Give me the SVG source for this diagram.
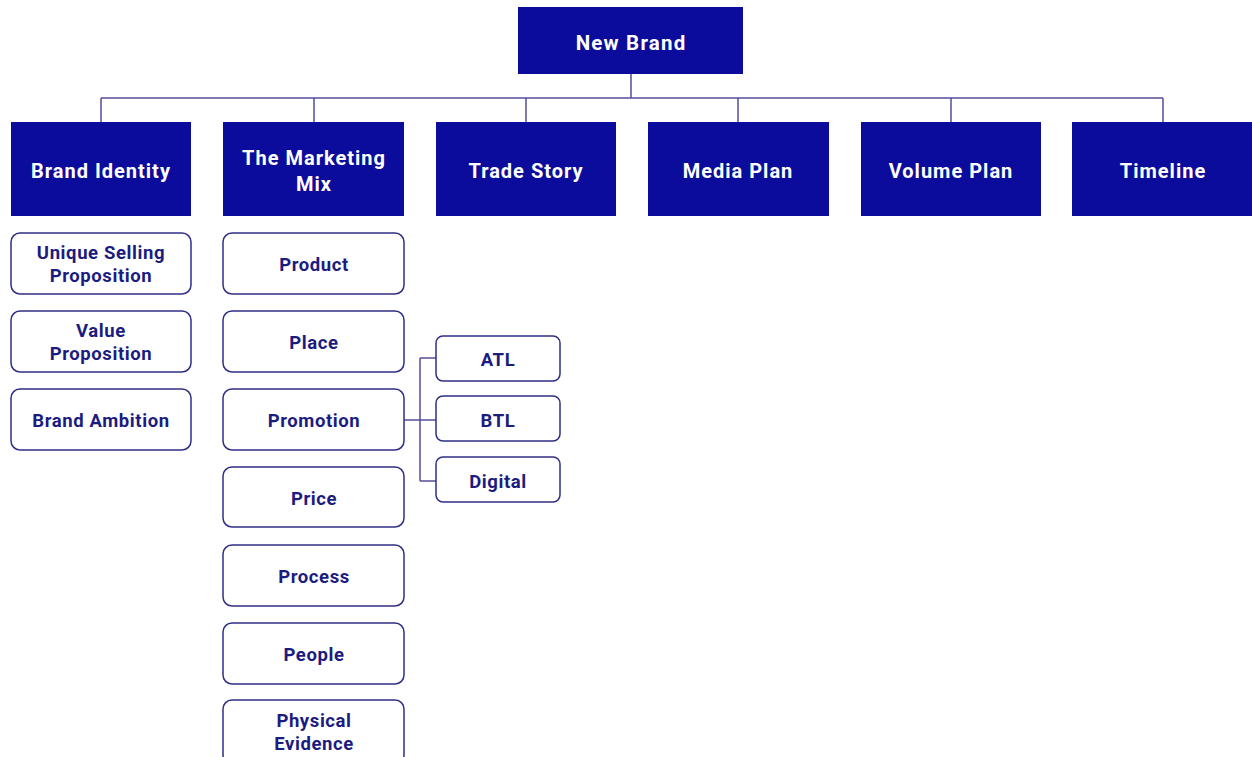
<svg xmlns="http://www.w3.org/2000/svg" width="1252" height="757" viewBox="0 0 1252 757">
  <style>
    .head rect { fill: #0c0c9c; }
    .head text { fill: #ffffff; font-family: Roboto, "Liberation Sans", sans-serif; font-weight: bold; font-size: 20px; text-anchor: middle; letter-spacing: 1px; }
    .item rect { fill: #ffffff; stroke: #2e2e86; stroke-width: 1.5; }
    .item text { fill: #1c1c80; font-family: Roboto, "Liberation Sans", sans-serif; font-weight: bold; font-size: 18.5px; text-anchor: middle; letter-spacing: 0.6px; }
    .wire { fill: none; stroke: #544c9c; stroke-width: 1.5; }
  </style>

  <g id="connectors" class="wire">
    <path d="M631 74 V98 M101 98 H1163 M101 98 V122 M314 98 V122 M526 98 V122 M738 98 V122 M951 98 V122 M1163 98 V122"/>
    <path d="M404 420 H436 M420 358 V481 M420 358 H436 M420 481 H436"/>
  </g>

  <g id="new-brand" class="head"><rect x="518" y="7" width="225" height="67"/><text x="631" y="50" style="font-size:20.5px;letter-spacing:1.2px">New Brand</text></g>

  <g id="brand-identity" class="head"><rect x="11" y="122" width="180" height="94"/><text x="101" y="178">Brand Identity</text></g>
  <g id="marketing-mix" class="head"><rect x="223" y="122" width="181" height="94"/><text x="314" y="165">The Marketing</text><text x="314" y="191">Mix</text></g>
  <g id="trade-story" class="head"><rect x="436" y="122" width="180" height="94"/><text x="526" y="178">Trade Story</text></g>
  <g id="media-plan" class="head"><rect x="648" y="122" width="181" height="94"/><text x="738" y="178">Media Plan</text></g>
  <g id="volume-plan" class="head"><rect x="861" y="122" width="180" height="94"/><text x="951" y="178">Volume Plan</text></g>
  <g id="timeline" class="head"><rect x="1072" y="122" width="180" height="94"/><text x="1163" y="178">Timeline</text></g>

  <g id="usp" class="item"><rect x="11" y="233" width="180" height="61" rx="9"/><text x="101" y="259">Unique Selling</text><text x="101" y="282">Proposition</text></g>
  <g id="value-proposition" class="item"><rect x="11" y="311" width="180" height="61" rx="9"/><text x="101" y="337">Value</text><text x="101" y="360">Proposition</text></g>
  <g id="brand-ambition" class="item"><rect x="11" y="389" width="180" height="61" rx="9"/><text x="101" y="427">Brand Ambition</text></g>

  <g id="product" class="item"><rect x="223" y="233" width="181" height="61" rx="9"/><text x="314" y="271">Product</text></g>
  <g id="place" class="item"><rect x="223" y="311" width="181" height="61" rx="9"/><text x="314" y="349">Place</text></g>
  <g id="promotion" class="item"><rect x="223" y="389" width="181" height="61" rx="9"/><text x="314" y="427">Promotion</text></g>
  <g id="price" class="item"><rect x="223" y="467" width="181" height="60" rx="9"/><text x="314" y="505">Price</text></g>
  <g id="process" class="item"><rect x="223" y="545" width="181" height="61" rx="9"/><text x="314" y="583">Process</text></g>
  <g id="people" class="item"><rect x="223" y="623" width="181" height="61" rx="9"/><text x="314" y="661">People</text></g>
  <g id="physical-evidence" class="item"><rect x="223" y="700" width="181" height="64" rx="9"/><text x="314" y="727">Physical</text><text x="314" y="750">Evidence</text></g>

  <g id="atl" class="item"><rect x="436" y="336" width="124" height="45" rx="7"/><text x="498" y="366">ATL</text></g>
  <g id="btl" class="item"><rect x="436" y="396" width="124" height="45" rx="7"/><text x="498" y="427">BTL</text></g>
  <g id="digital" class="item"><rect x="436" y="457" width="124" height="45" rx="7"/><text x="498" y="488">Digital</text></g>
</svg>
